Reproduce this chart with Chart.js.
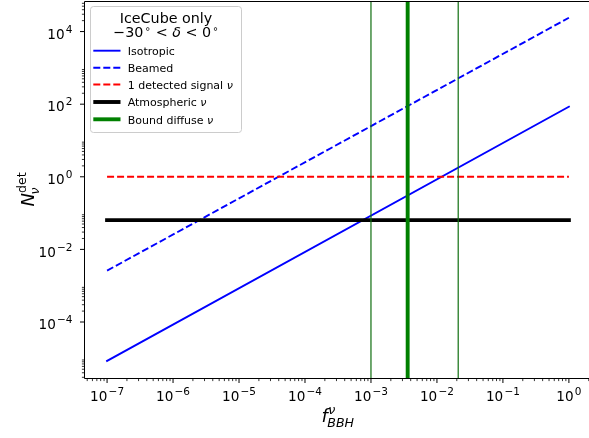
<!DOCTYPE html>
<html><head><meta charset="utf-8">
<script src="https://cdn.jsdelivr.net/npm/chart.js@4.4.0/dist/chart.umd.min.js"></script>
<style>
html,body{margin:0;padding:0;background:#fff;overflow:hidden;width:589px;height:438px}
#wrap{position:absolute;left:0;top:0;width:620px;height:438px}
canvas{display:block}
</style>
</head><body><div id="wrap"><canvas id="c" width="620" height="438" style="width:620px;height:438px"></canvas></div>
<script>
// ---- data ----
const fValues = [1e-7, 1];
const isotropicN = [8.5e-6, 85];
const beamedN = [2.6e-3, 2.4e4];
const signalN = [1, 1];
const atmosphericN = [0.064, 0.064];
const boundDiffuseF = [3.6e-3];
const boundRangeF = [1e-3, 2.1e-2];
const xLimits = [4.47e-8, 2.24];
const yLimits = [2.87e-6, 6.95e4];
const xTickValues = [1e-7, 1e-6, 1e-5, 1e-4, 1e-3, 1e-2, 1e-1, 1];
const xTickLabels = ['10⁻⁷', '10⁻⁶', '10⁻⁵', '10⁻⁴', '10⁻³', '10⁻²', '10⁻¹', '10⁰'];
const yTickValues = [1e-4, 1e-2, 1, 1e2, 1e4];
const yTickLabels = ['10⁻⁴', '10⁻²', '10⁰', '10²', '10⁴'];
const seriesLabels = ['Isotropic', 'Beamed', '1 detected signal ν', 'Atmospheric ν', 'Bound diffuse ν'];
const legendTitle = ['IceCube only', '−30° < δ < 0°'];

const FAM = '"DejaVu Sans"';
function pts(xs, ys) { return xs.map((x, i) => ({ x: x, y: ys[i] })); }
function vline(x) { return [{ x: x, y: yLimits[0] }, { x: x, y: yLimits[1] }]; }
function fnt(size, italic) { return (italic ? 'italic ' : '') + size + 'px ' + FAM; }

const datasets = [
  { label: seriesLabels[0], data: pts(fValues, isotropicN), borderColor: '#0000ff', borderWidth: 1.9, borderCapStyle: 'square', order: 6 },
  { label: seriesLabels[1], data: pts(fValues, beamedN), borderColor: '#0000ff', borderWidth: 1.9, borderDash: [7, 3], order: 5 },
  { label: seriesLabels[2], data: pts(fValues, signalN), borderColor: '#ff0000', borderWidth: 1.9, borderDash: [7, 3], order: 4 },
  { label: seriesLabels[3], data: pts(fValues, atmosphericN), borderColor: '#000000', borderWidth: 3.9, borderCapStyle: 'square', order: 3 },
  { label: seriesLabels[4], data: vline(boundDiffuseF[0]), borderColor: '#008000', borderWidth: 3.9, order: 2 },
  { label: '', data: vline(boundRangeF[0]), borderColor: '#0f6e0f', borderWidth: 1.2, order: 1 },
  { label: '', data: vline(boundRangeF[1]), borderColor: '#0f6e0f', borderWidth: 1.2, order: 0 }
];
datasets.forEach(d => { d.pointRadius = 0; d.fill = false; d.tension = 0; });

function minorTicks(lo, hi, decades) {
  const out = [];
  decades.forEach(k => { for (let m = 2; m <= 9; m++) { const v = m * Math.pow(10, k); if (v >= lo && v <= hi) out.push(v); } });
  return out;
}

// draws "10" + superscript exponent taken from a label like '10⁻⁷'
const SUP = { '⁰': '0', '¹': '1', '²': '2', '³': '3', '⁴': '4', '⁵': '5', '⁶': '6', '⁷': '7', '⁸': '8', '⁹': '9', '⁻': '−' };
function powerLabel(ctx, label, x, y, align) {
  const base = label.slice(0, 2);
  const exp = label.slice(2).split('').map(c => SUP[c] || c).join('');
  ctx.font = fnt(13.6, false); const wb = ctx.measureText(base).width;
  ctx.font = fnt(10.5, false); const we = ctx.measureText(exp).width;
  const gap = 1.2, tot = wb + gap + we;
  let x0 = align === 'center' ? x - tot / 2 : x - tot;
  ctx.font = fnt(13.6, false); ctx.fillText(base, x0, y);
  ctx.font = fnt(10.5, false); ctx.fillText(exp, x0 + wb + gap, y - 6);
}

const decorPlugin = {
  id: 'decor',
  afterDraw(chart) {
    const ctx = chart.ctx, a = chart.chartArea, xs = chart.scales.x, ys = chart.scales.y;
    ctx.save();
    ctx.strokeStyle = '#000';
    const L = Math.round(a.left) + 0.5, B = Math.round(a.bottom) + 0.5, T = Math.round(a.top) + 0.5, R = Math.round(a.right) + 0.5;
    ctx.lineWidth = 1;
    xTickValues.forEach(v => { const p = xs.getPixelForValue(v); ctx.beginPath(); ctx.moveTo(p, B); ctx.lineTo(p, B + 4.5); ctx.stroke(); });
    yTickValues.forEach(v => { const p = ys.getPixelForValue(v); ctx.beginPath(); ctx.moveTo(L - 4.5, p); ctx.lineTo(L, p); ctx.stroke(); });
    ctx.lineWidth = 0.8;
    minorTicks(xLimits[0], xLimits[1], [-8, -7, -6, -5, -4, -3, -2, -1, 0]).forEach(v => { const p = xs.getPixelForValue(v); ctx.beginPath(); ctx.moveTo(p, B); ctx.lineTo(p, B + 2.6); ctx.stroke(); });
    minorTicks(yLimits[0], yLimits[1], [-6, -4, -2, 0, 2, 4]).forEach(v => { const p = ys.getPixelForValue(v); ctx.beginPath(); ctx.moveTo(L - 2.6, p); ctx.lineTo(L, p); ctx.stroke(); });
    // spines: top, left, bottom (the right spine lies outside the visible window)
    ctx.lineWidth = 1;
    ctx.beginPath();
    ctx.moveTo(R, T); ctx.lineTo(L, T); ctx.lineTo(L, B); ctx.lineTo(R, B);
    ctx.stroke();

    ctx.fillStyle = '#000';
    ctx.textBaseline = 'alphabetic';
    ctx.textAlign = 'left';
    xTickValues.forEach((v, i) => powerLabel(ctx, xTickLabels[i], xs.getPixelForValue(v), a.bottom + 22.7, 'center'));
    yTickValues.forEach((v, i) => powerLabel(ctx, yTickLabels[i], a.left - 11.5, ys.getPixelForValue(v) + 7.2, 'right'));

    const big = 18, small = 12.6;
    ctx.font = fnt(big, true); const wf = ctx.measureText('f').width;
    ctx.font = fnt(small, true); const wsub = ctx.measureText('BBH').width, wsup = ctx.measureText('ν').width;
    const totX = wf + Math.max(wsub, wsup);
    const cx = (a.left + a.right) / 2;
    let x0 = cx - totX / 2, by = 422;
    ctx.font = fnt(big, true); ctx.fillText('f', x0, by);
    ctx.font = fnt(small, true); ctx.fillText('ν', x0 + wf + 0.5, by - 7.7); ctx.fillText('BBH', x0 + wf - 0.5, by + 4.7);
    ctx.save();
    ctx.translate(34, (a.top + a.bottom) / 2);
    ctx.rotate(-Math.PI / 2);
    ctx.font = fnt(big, true); const wN = ctx.measureText('N').width;
    ctx.font = fnt(small, false); const wdet = ctx.measureText('det').width;
    ctx.font = fnt(small, true); const wnu = ctx.measureText('ν').width;
    const totY = wN + Math.max(wdet, wnu);
    let y0 = -totY / 2;
    ctx.font = fnt(big, true); ctx.fillText('N', y0, 0);
    ctx.font = fnt(small, false); ctx.fillText('det', y0 + wN, -7.7);
    ctx.font = fnt(small, true); ctx.fillText('ν', y0 + wN - 1.5, 4.7);
    ctx.restore();

    const lx = 90.5, ly = 6.5, lw = 151, lh = 126, r = 3;
    ctx.beginPath();
    ctx.moveTo(lx + r, ly); ctx.lineTo(lx + lw - r, ly); ctx.arcTo(lx + lw, ly, lx + lw, ly + r, r);
    ctx.lineTo(lx + lw, ly + lh - r); ctx.arcTo(lx + lw, ly + lh, lx + lw - r, ly + lh, r);
    ctx.lineTo(lx + r, ly + lh); ctx.arcTo(lx, ly + lh, lx, ly + lh - r, r);
    ctx.lineTo(lx, ly + r); ctx.arcTo(lx, ly, lx + r, ly, r); ctx.closePath();
    ctx.fillStyle = 'rgba(255,255,255,0.8)'; ctx.fill();
    ctx.strokeStyle = '#cccccc'; ctx.lineWidth = 1; ctx.stroke();
    const lcx = lx + lw / 2;
    ctx.fillStyle = '#000';
    ctx.textAlign = 'center';
    ctx.font = fnt(14.3, false);
    ctx.fillText(legendTitle[0], lcx, 22.7);
    const parts = legendTitle[1].split(/(°|δ)/).filter(s => s.length);
    const runs = parts.map(s => s === '°' ? { t: '∘', size: 10, it: false, dy: -5.5, pre: 1.5 } : s === 'δ' ? { t: 'δ', size: 14.3, it: true, dy: 0, pre: 0 } : { t: s, size: 14.3, it: false, dy: 0, pre: 0 });
    let tot = 0;
    runs.forEach(rn => { ctx.font = fnt(rn.size, rn.it); rn.w = ctx.measureText(rn.t).width; tot += rn.w + rn.pre; });
    ctx.textAlign = 'left';
    let rx = lcx - tot / 2;
    runs.forEach(rn => { rx += rn.pre; ctx.font = fnt(rn.size, rn.it); ctx.fillText(rn.t, rx, 37.3 + rn.dy); rx += rn.w; });
    const rowY = [50.7, 67.7, 84.5, 102, 119.3];
    let row = 0;
    chart.data.datasets.forEach(d => {
      if (!d.label) return;
      const yy = rowY[row++];
      ctx.save();
      ctx.strokeStyle = d.borderColor; ctx.lineWidth = d.borderWidth;
      ctx.setLineDash(d.borderDash || []);
      ctx.lineCap = 'butt';
      ctx.beginPath(); ctx.moveTo(93.3, yy); ctx.lineTo(120.5, yy); ctx.stroke();
      ctx.restore();
      const m = d.label.match(/^(.*?)(ν)?$/);
      ctx.font = fnt(11, false);
      ctx.fillText(m[1], 127.7, yy + 4.2);
      if (m[2]) { const w = ctx.measureText(m[1]).width; ctx.font = fnt(11, true); ctx.fillText(m[2], 127.7 + w, yy + 4.2); }
    });
    ctx.restore();
  }
};

function zeroPad(s) { s.paddingTop = 0; s.paddingBottom = 0; s.paddingLeft = 0; s.paddingRight = 0; }

new Chart(document.getElementById('c'), {
  type: 'line',
  data: { datasets: datasets },
  options: {
    responsive: false,
    animation: false,
    events: [],
    layout: { padding: { left: 0, right: 28, top: 1, bottom: 0 } },
    plugins: { legend: { display: false }, tooltip: { enabled: false } },
    scales: {
      x: {
        type: 'logarithmic', position: 'bottom', min: xLimits[0], max: xLimits[1],
        grid: { display: false, drawTicks: false }, border: { display: false },
        ticks: { display: false, autoSkip: false, maxRotation: 0, minRotation: 0, callback: (v, i) => xTickLabels[i] },
        afterBuildTicks: s => { s.ticks = xTickValues.map(v => ({ value: v })); },
        afterFit: s => { s.height = 60; zeroPad(s); }
      },
      y: {
        type: 'logarithmic', position: 'left', min: yLimits[0], max: yLimits[1],
        grid: { display: false, drawTicks: false }, border: { display: false },
        ticks: { display: false, autoSkip: false, callback: (v, i) => yTickLabels[i] },
        afterBuildTicks: s => { s.ticks = yTickValues.map(v => ({ value: v })); },
        afterFit: s => { s.width = 84; zeroPad(s); }
      }
    }
  },
  plugins: [decorPlugin]
});
</script>
</body></html>
